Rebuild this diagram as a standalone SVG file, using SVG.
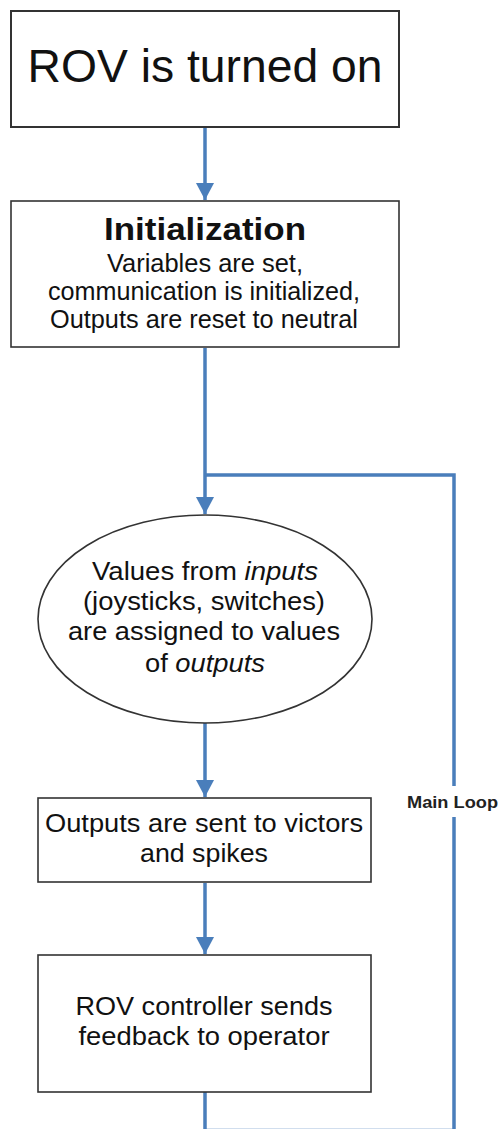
<svg xmlns="http://www.w3.org/2000/svg" width="502" height="1129" viewBox="0 0 502 1129">
<defs>
<style>
.box{fill:#fff;stroke:#333;stroke-width:1.6}
.t{font-family:"Liberation Sans",Arial,sans-serif;fill:#111;text-anchor:middle}
.b{font-size:25px}
.con{fill:none;stroke:#4a7ebb;stroke-width:3.5}
</style>
<marker id="ah" markerUnits="userSpaceOnUse" markerWidth="18" markerHeight="18" viewBox="0 0 18 18" refX="17" refY="9" orient="auto">
<path d="M0,0 L17,9 L0,18 Z" fill="#4a7ebb"/>
</marker>
</defs>
<rect width="502" height="1129" fill="#fff"/>
<g id="connectors">
<line class="con" x1="205" y1="128" x2="205" y2="200" marker-end="url(#ah)"/>
<line class="con" x1="205" y1="348" x2="205" y2="514" marker-end="url(#ah)"/>
<line class="con" x1="205" y1="723" x2="205" y2="797" marker-end="url(#ah)"/>
<line class="con" x1="205" y1="883" x2="205" y2="954" marker-end="url(#ah)"/>
<path class="con" d="M205 1092 V1130.5 H454 V817"/>
<path class="con" d="M454 786 V475 H205"/>
</g>
<g id="node-start">
<rect class="box" x="11" y="11" width="388" height="116" style="stroke-width:2"/>
<text class="t" x="205" y="82" font-size="46" textLength="355" lengthAdjust="spacingAndGlyphs">ROV is turned on</text>
</g>
<g id="node-init">
<rect class="box" x="11" y="201" width="388" height="146"/>
<text class="t" x="205" y="240" font-size="32" font-weight="bold" textLength="202" lengthAdjust="spacingAndGlyphs">Initialization</text>
<text class="t b" x="205" y="272" textLength="196" lengthAdjust="spacingAndGlyphs">Variables are set,</text>
<text class="t b" x="204" y="300" textLength="312" lengthAdjust="spacingAndGlyphs">communication is initialized,</text>
<text class="t b" x="204" y="328" textLength="308" lengthAdjust="spacingAndGlyphs">Outputs are reset to neutral</text>
</g>
<g id="node-assign">
<ellipse class="box" cx="205" cy="619" rx="167" ry="104"/>
<text class="t b" x="205" y="580" textLength="226" lengthAdjust="spacingAndGlyphs">Values from <tspan font-style="italic">inputs</tspan></text>
<text class="t b" x="204" y="610" textLength="242" lengthAdjust="spacingAndGlyphs">(joysticks, switches)</text>
<text class="t b" x="204" y="640" textLength="272" lengthAdjust="spacingAndGlyphs">are assigned to values</text>
<text class="t b" x="205" y="672" textLength="120" lengthAdjust="spacingAndGlyphs">of <tspan font-style="italic">outputs</tspan></text>
</g>
<g id="node-send">
<rect class="box" x="38" y="798" width="333" height="84"/>
<text class="t b" x="204" y="832" textLength="318" lengthAdjust="spacingAndGlyphs">Outputs are sent to victors</text>
<text class="t b" x="204" y="862" textLength="128" lengthAdjust="spacingAndGlyphs">and spikes</text>
</g>
<g id="node-feedback">
<rect class="box" x="38" y="955" width="333" height="137"/>
<text class="t b" x="204" y="1015" textLength="257" lengthAdjust="spacingAndGlyphs">ROV controller sends</text>
<text class="t b" x="204" y="1045" textLength="251" lengthAdjust="spacingAndGlyphs">feedback to operator</text>
</g>
<g id="label-main-loop">
<text x="407" y="808" font-family="'Liberation Sans',Arial,sans-serif" font-size="17" font-weight="bold" fill="#222" textLength="91" lengthAdjust="spacingAndGlyphs">Main Loop</text>
</g>
</svg>
